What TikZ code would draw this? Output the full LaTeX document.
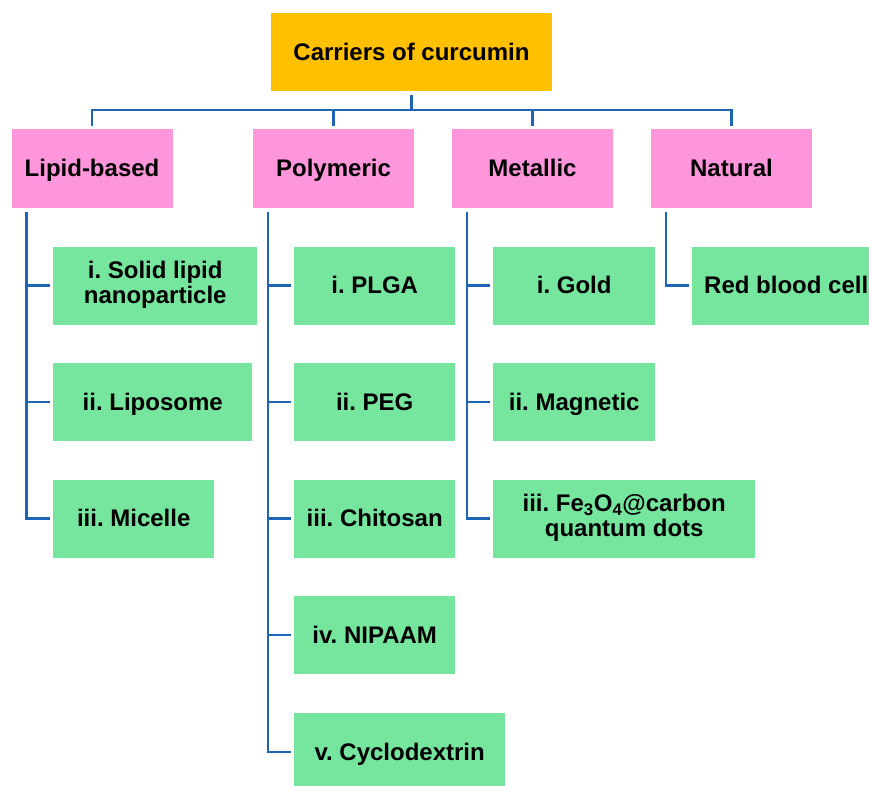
\documentclass[tikz,border=0pt]{standalone}
\usepackage{fontspec}
\setmainfont{Liberation Sans}
\usepackage{xcolor}
\usetikzlibrary{positioning}
\definecolor{rootcol}{HTML}{FFC000}
\definecolor{catcol}{HTML}{FF96DC}
\definecolor{itemcol}{HTML}{76E69E}
\definecolor{linkcol}{HTML}{1F65B5}
\newcommand{\capstrut}{\rule[-6pt]{0pt}{28.2pt}}
\frenchspacing

\begin{document}
\begin{tikzpicture}[x=1pt,y=-1pt,
  every node/.style={inner sep=0pt,align=center,font=\bfseries\fontsize{24}{25}\selectfont,
    execute at begin node=\capstrut,execute at end node=\capstrut},
  rootbox/.style={fill=rootcol,minimum width=281pt,minimum height=78pt},
  catbox/.style={fill=catcol,minimum width=161pt,minimum height=79pt},
  itembox/.style={fill=itemcol,minimum height=78pt,anchor=west},
  twoline/.style={execute at begin node=\rule[-6pt]{0pt}{34.2pt}},
  link/.style={draw=linkcol,line width=2.4pt}]
\useasboundingbox (0,0) rectangle (869,785);
% top level
\node[rootbox] (root) at (411.5,52) {Carriers of curcumin};
\node[catbox] (lip) at (92,168.5) {Lipid-based};
\node[catbox] (poly) at (333.5,168.5) {Polymeric};
\node[catbox] (metal) at (532.5,168.5) {Metallic};
\node[catbox] (nat) at (731.5,168.5) {Natural};
\coordinate (bus) at (411.5,110);
\draw[link,shorten <=4pt] (root.south) -- (bus);
\foreach \c in {lip,poly,metal,nat}
  \draw[link,shorten >=3pt] (bus) -| (\c.north);
% lipid-based
\node[itembox,twoline,minimum width=204pt] (sln) at (53,285.5) {i. Solid lipid\\nanoparticle};
\node[itembox,minimum width=199pt] (lipo) at (53,402) {ii. Liposome};
\node[itembox,minimum width=161pt] (mic) at (53,518.5) {iii. Micelle};
% polymeric
\node[itembox,minimum width=161pt] (plga) at (294,285.5) {i. PLGA};
\node[itembox,minimum width=161pt] (peg) at (294,402) {ii. PEG};
\node[itembox,minimum width=161pt] (chit) at (294,518.5) {iii. Chitosan};
\node[itembox,minimum width=161pt] (nipa) at (294,635) {iv. NIPAAM};
\node[itembox,minimum width=211pt] (cyclo) at (294,752) {v. Cyclodextrin};
% metallic
\node[itembox,minimum width=162pt] (gold) at (493,285.5) {i. Gold};
\node[itembox,minimum width=162pt] (magn) at (493,402) {ii. Magnetic};
\node[itembox,twoline,minimum width=262pt] (feo) at (493,518.5) {iii. Fe\textsubscript{3}O\textsubscript{4}@carbon\\quantum dots};
% natural
\node[itembox,minimum width=188pt] (rbc) at (692,285.5) {Red blood cell};
% branches
\foreach \c/\i in {lip/sln,lip/lipo,lip/mic,poly/plga,poly/peg,poly/chit,poly/nipa,poly/cyclo,metal/gold,metal/magn,metal/feo,nat/rbc}
  \draw[link,shorten >=3pt] ([xshift=15pt,yshift=-4pt]\c.south west) |- (\i.west);
\end{tikzpicture}
\end{document}
